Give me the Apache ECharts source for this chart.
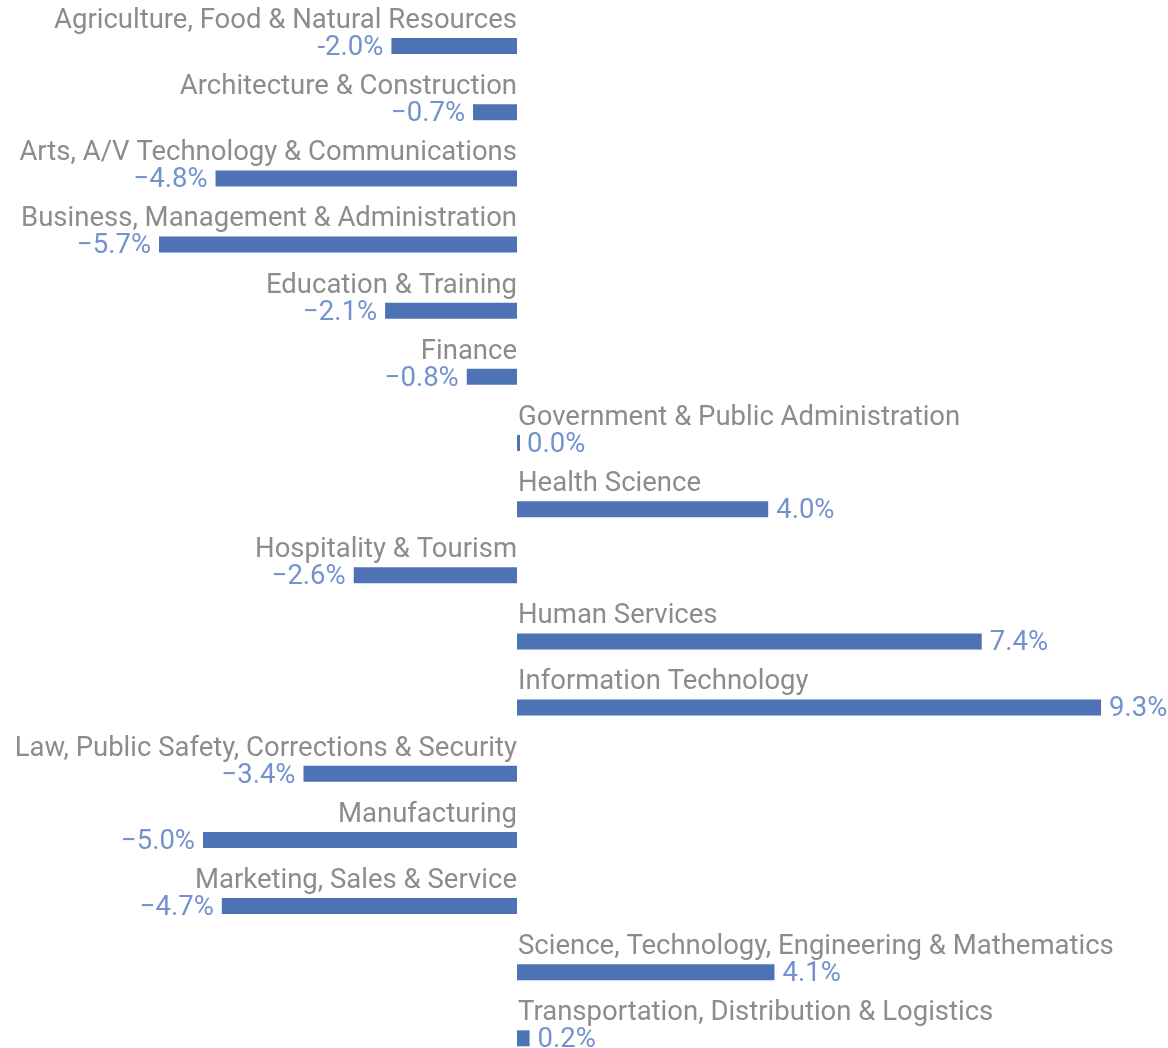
<!DOCTYPE html>
<html>
<head>
<meta charset="utf-8">
<script src="https://cdn.jsdelivr.net/npm/echarts@6/dist/echarts.min.js"></script>
<style>
  html, body { margin: 0; padding: 0; background: #fff; }
  #chart { width: 1168px; height: 1048px; }
</style>
</head>
<body>
<div id="chart"></div>
<script>
// categories, top to bottom
const categories = [
  "Agriculture, Food & Natural Resources",
  "Architecture & Construction",
  "Arts, A/V Technology & Communications",
  "Business, Management & Administration",
  "Education & Training",
  "Finance",
  "Government & Public Administration",
  "Health Science",
  "Hospitality & Tourism",
  "Human Services",
  "Information Technology",
  "Law, Public Safety, Corrections & Security",
  "Manufacturing",
  "Marketing, Sales & Service",
  "Science, Technology, Engineering & Mathematics",
  "Transportation, Distribution & Logistics"
];
// percent change
const changes = [-2.0, -0.7, -4.8, -5.7, -2.1, -0.8, 0.0, 4.0, -2.6, 7.4, 9.3, -3.4, -5.0, -4.7, 4.1, 0.2];
const valueLabels = ["-2.0%", "\u22120.7%", "\u22124.8%", "\u22125.7%", "\u22122.1%", "\u22120.8%", "0.0%", "4.0%",
  "\u22122.6%", "7.4%", "9.3%", "\u22123.4%", "\u22125.0%", "\u22124.7%", "4.1%", "0.2%"];

const barColor = "#4e73b4";
const valueColor = "#5077c0";
const nameColor = "#6f6f6f";
const font = "Roboto";

const chart = echarts.init(document.getElementById("chart"));

chart.setOption({
  animation: false,
  backgroundColor: "#fff",
  grid: { left: 14.6, top: 13, width: 1130.4, height: 1058.4, containLabel: false, outerBoundsMode: "none" },
  xAxis: {
    type: "value", min: -8, max: 10,
    show: false
  },
  yAxis: {
    type: "category", data: categories, inverse: true,
    show: false
  },
  series: [
    {
      type: "bar",
      data: changes,
      barWidth: 16,
      barMinHeight: 3,
      itemStyle: { color: barColor },
      silent: true
    },
    {
      // value labels at bar ends
      type: "scatter",
      symbolSize: 0,
      silent: true,
      data: changes.map((v, i) => ({
        value: [v, categories[i]],
        label: {
          show: true,
          position: v < 0 ? "left" : "right",
          distance: v === 0 ? 10 : 8,
          offset: [0, 2],
          formatter: valueLabels[i],
          color: valueColor,
          fontFamily: font,
          fontSize: 27.5
        }
      }))
    },
    {
      // category names above the bars, anchored on the zero line
      type: "scatter",
      symbolSize: 0,
      silent: true,
      data: changes.map((v, i) => ({
        value: [0, categories[i]],
        label: {
          show: true,
          position: v < 0 ? "left" : "right",
          distance: 0,
          offset: [v < 0 ? 0 : 1, -25],
          formatter: categories[i],
          color: nameColor,
          fontFamily: font,
          fontSize: 27.5
        }
      }))
    }
  ]
});
</script>
</body>
</html>
